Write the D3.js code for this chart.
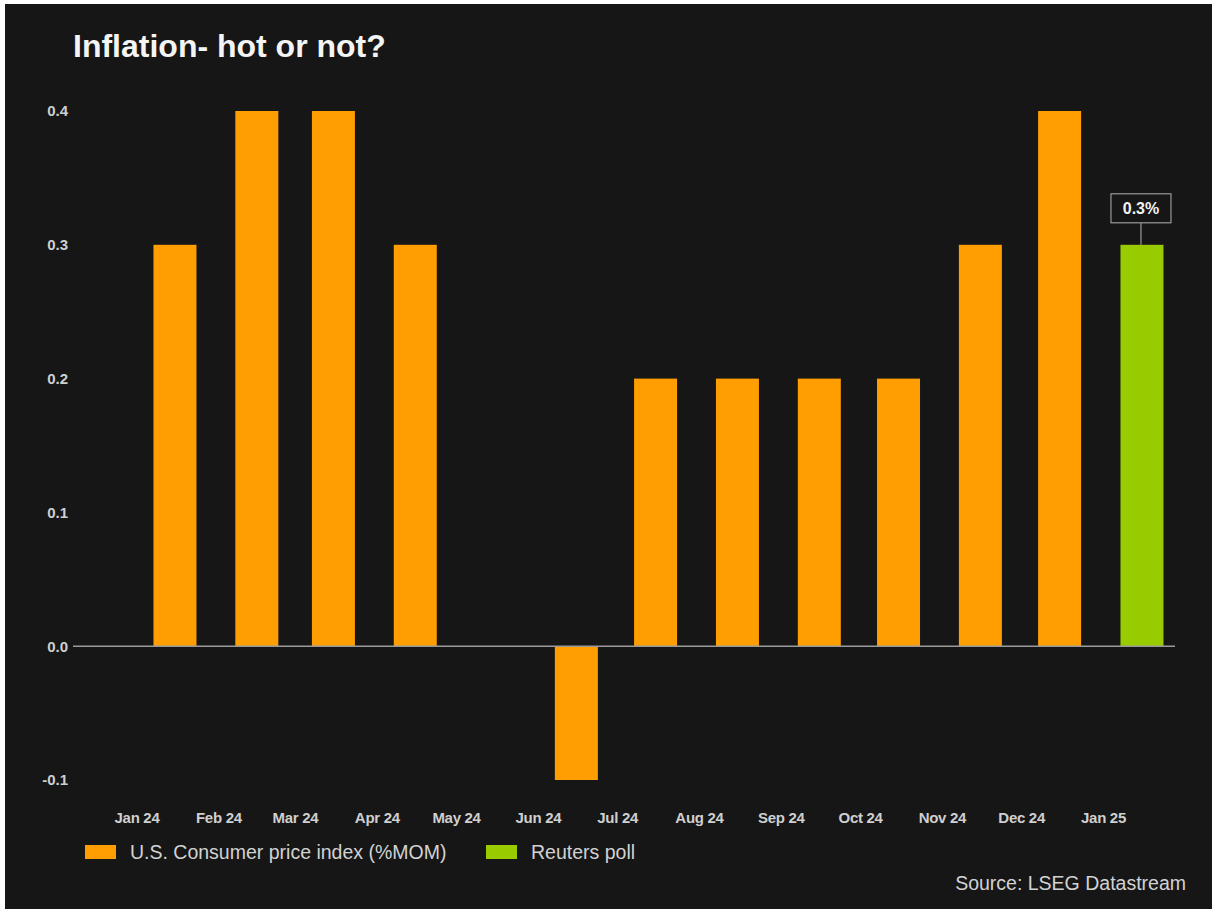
<!DOCTYPE html>
<html>
<head>
<meta charset="utf-8">
<script src="https://cdn.jsdelivr.net/npm/d3@7"></script>
<style>
  html, body { margin: 0; padding: 0; background: #ffffff; }
  svg { display: block; }
  text { font-family: "Liberation Sans", Arial, Helvetica, sans-serif; }
</style>
</head>
<body>
<svg id="chart" width="1212" height="910"></svg>
<script>
// Monthly CPI change (% month over month), 2024, plus the poll forecast for Jan 2025
const months = ["2024-01","2024-02","2024-03","2024-04","2024-05","2024-06",
                "2024-07","2024-08","2024-09","2024-10","2024-11","2024-12"];
const cpiValues = [0.3, 0.4, 0.4, 0.3, 0.0, -0.1, 0.2, 0.2, 0.2, 0.2, 0.3, 0.4];
const pollMonth = "2025-01";
const pollValue = 0.3;
const yTicks = [-0.1, 0.0, 0.1, 0.2, 0.3, 0.4];
const tickMonths = ["2024-01","2024-02","2024-03","2024-04","2024-05","2024-06","2024-07",
                    "2024-08","2024-09","2024-10","2024-11","2024-12","2025-01"];
const seriesNames = ["U.S. Consumer price index (%MOM)", "Reuters poll"];

const ORANGE = "#ff9e00";
const GREEN = "#99cc00";
const BG = "#161616";

const parseMonth = d3.timeParse("%Y-%m");
const midMonth = m => { const d = parseMonth(m); return new Date(d.getFullYear(), d.getMonth(), 15); };
// one decimal, plain hyphen for negatives
const fmt1 = d => d3.format(".1f")(d).replace("\u2212", "-");

const svg = d3.select("#chart");

// dark panel
svg.append("rect").attr("x", 5).attr("y", 4).attr("width", 1207).attr("height", 905).attr("fill", BG);

// title
svg.append("text")
  .attr("x", 73).attr("y", 57)
  .attr("fill", "#f4f4f4")
  .attr("font-size", 32).attr("font-weight", "bold")
  .text("Inflation- hot or not?");

const x = d3.scaleTime()
  .domain([parseMonth("2024-01"), parseMonth("2025-01")])
  .range([136.5, 1103]);

const y = d3.scaleLinear()
  .domain([-0.1, 0.4])
  .range([780, 111]);

const barW = 43;

// y axis labels
const yAxis = d3.axisLeft(y).tickValues(yTicks).tickSize(0).tickPadding(0)
  .tickFormat(fmt1);
const gy = svg.append("g").attr("transform", "translate(68,0)").call(yAxis);
gy.select(".domain").remove();
gy.selectAll("text")
  .attr("fill", "#cfcfcf").attr("font-size", 15).attr("font-weight", "bold")
  .style("font-family", "'Liberation Sans', Arial, sans-serif");

// x axis labels
const xAxis = d3.axisBottom(x).tickValues(tickMonths.map(parseMonth)).tickSize(0).tickPadding(0)
  .tickFormat(d3.timeFormat("%b %y"));
const gx = svg.append("g").attr("transform", "translate(0,812)").call(xAxis);
gx.select(".domain").remove();
gx.selectAll("text")
  .attr("fill", "#cfcfcf").attr("font-size", 15).attr("font-weight", "bold")
  .attr("letter-spacing", -0.3)
  .style("font-family", "'Liberation Sans', Arial, sans-serif");

// CPI bars
svg.append("g").selectAll("rect")
  .data(months.map((m, i) => ({ date: midMonth(m), value: cpiValues[i] })))
  .join("rect")
  .attr("x", d => x(d.date) - barW / 2 + 1.5)
  .attr("width", barW)
  .attr("y", d => y(Math.max(0, d.value)))
  .attr("height", d => Math.abs(y(d.value) - y(0)))
  .attr("fill", ORANGE);

// poll bar
const pollX = x(midMonth(pollMonth)) + 2;
svg.append("rect")
  .attr("x", pollX - barW / 2).attr("width", barW)
  .attr("y", y(pollValue)).attr("height", y(0) - y(pollValue))
  .attr("fill", GREEN);

// zero line
svg.append("line")
  .attr("x1", 73).attr("x2", 1175)
  .attr("y1", y(0)).attr("y2", y(0))
  .attr("stroke", "#9a9a9a").attr("stroke-width", 1.5);

// poll value callout
const boxW = 60, boxH = 29, boxBottom = y(pollValue) - 22;
svg.append("line")
  .attr("x1", pollX - 1).attr("x2", pollX - 1)
  .attr("y1", boxBottom).attr("y2", y(pollValue))
  .attr("stroke", "#9a9a9a").attr("stroke-width", 1.2);
svg.append("rect")
  .attr("x", pollX - 1 - boxW / 2).attr("y", boxBottom - boxH)
  .attr("width", boxW).attr("height", boxH)
  .attr("fill", BG).attr("stroke", "#9a9a9a").attr("stroke-width", 1.2);
svg.append("text")
  .attr("x", pollX - 1).attr("y", boxBottom - 9)
  .attr("text-anchor", "middle")
  .attr("fill", "#f2f2f2").attr("font-size", 16).attr("font-weight", "bold")
  .text(fmt1(pollValue) + "%");

// legend
const legend = svg.append("g");
const legendItems = [
  { name: seriesNames[0], color: ORANGE, x: 85 },
  { name: seriesNames[1], color: GREEN, x: 486 }
];
legendItems.forEach(it => {
  legend.append("rect").attr("x", it.x).attr("y", 845).attr("width", 31).attr("height", 14).attr("fill", it.color);
  legend.append("text").attr("x", it.x + 45).attr("y", 859)
    .attr("fill", "#d2d2d2").attr("font-size", 19.5)
    .text(it.name);
});

// source
svg.append("text")
  .attr("x", 1186).attr("y", 890)
  .attr("text-anchor", "end")
  .attr("fill", "#d2d2d2").attr("font-size", 19.5)
  .text("Source: LSEG Datastream");
</script>
</body>
</html>
